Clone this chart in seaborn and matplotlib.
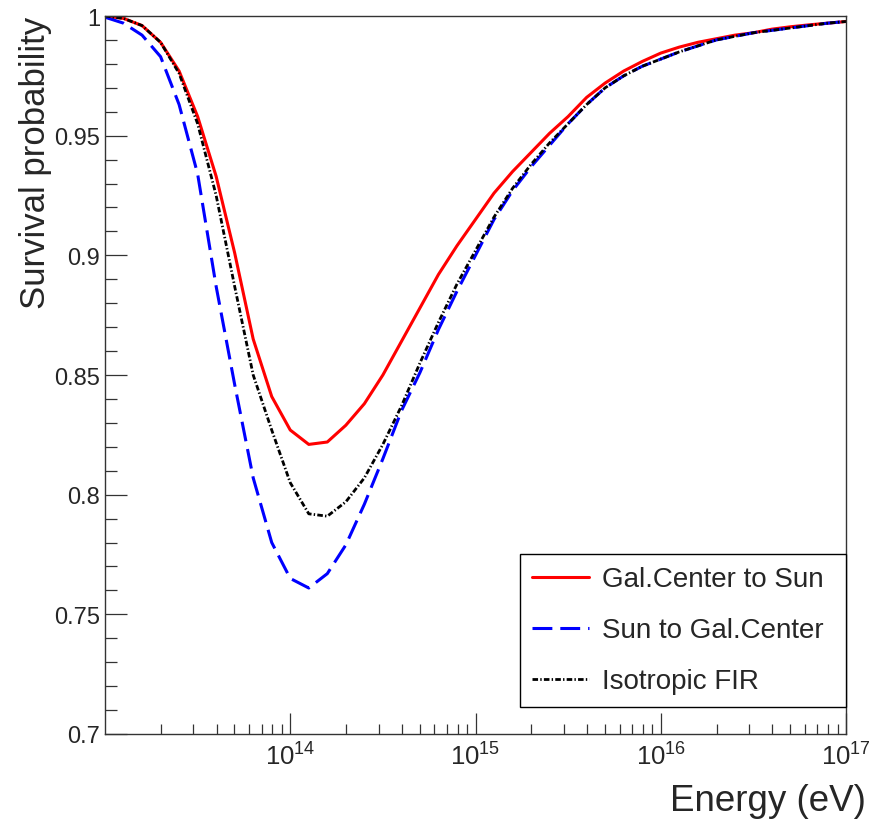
import numpy as np
import matplotlib
matplotlib.use("Agg")
import matplotlib.pyplot as plt
from matplotlib.ticker import FixedLocator, LogLocator, MultipleLocator, NullFormatter
import seaborn as sns

# Energy grid: log10(E/eV) in steps of 0.1 decade
log_energy = np.round(np.arange(13.0, 17.05, 0.1), 1)

# Survival probability for each propagation geometry
gc_to_sun = [1.000, 0.999, 0.996, 0.989, 0.977, 0.958, 0.933, 0.901, 0.865, 0.841,
             0.827, 0.821, 0.822, 0.829, 0.838, 0.850, 0.864, 0.878, 0.892, 0.904,
             0.915, 0.926, 0.935, 0.943, 0.951, 0.958, 0.966, 0.972, 0.977, 0.981,
             0.9845, 0.987, 0.989, 0.9905, 0.992, 0.993, 0.9945, 0.9955, 0.9963, 0.997,
             0.9977]
sun_to_gc = [0.9995, 0.997, 0.992, 0.983, 0.963, 0.934, 0.887, 0.846, 0.807, 0.780,
             0.765, 0.761, 0.767, 0.779, 0.796, 0.815, 0.835, 0.851, 0.869, 0.885,
             0.900, 0.915, 0.927, 0.937, 0.946, 0.955, 0.963, 0.970, 0.975, 0.979,
             0.982, 0.985, 0.9875, 0.990, 0.9915, 0.993, 0.994, 0.995, 0.996, 0.997,
             0.9977]
isotropic_fir = [1.000, 0.999, 0.996, 0.989, 0.976, 0.955, 0.925, 0.887, 0.850, 0.827,
                 0.805, 0.792, 0.791, 0.797, 0.807, 0.821, 0.837, 0.855, 0.872, 0.888,
                 0.902, 0.916, 0.928, 0.938, 0.947, 0.955, 0.963, 0.970, 0.975, 0.979,
                 0.982, 0.985, 0.9875, 0.990, 0.9915, 0.993, 0.994, 0.995, 0.996, 0.997,
                 0.9977]

series_labels = ["Gal.Center to Sun", "Sun to Gal.Center", "Isotropic FIR"]
x_tick_exponents = [14, 15, 16, 17]
y_ticks = [0.7, 0.75, 0.8, 0.85, 0.9, 0.95, 1.0]
y_tick_labels = ["0.7", "0.75", "0.8", "0.85", "0.9", "0.95", "1"]

sns.set_style("ticks")
plt.rcParams["font.family"] = ["Liberation Sans", "DejaVu Sans"]
plt.rcParams["mathtext.fontset"] = "custom"
plt.rcParams["mathtext.rm"] = "Liberation Sans"
plt.rcParams["mathtext.it"] = "Liberation Sans:italic"
plt.rcParams["mathtext.bf"] = "Liberation Sans:bold"

W, H = 878, 820
fig = plt.figure(figsize=(W / 100, H / 100), dpi=100)
ax = fig.add_axes([105 / W, 1 - 735 / H, (846 - 105) / W, (735 - 17) / H])

energy = 10.0 ** log_energy
sns.lineplot(x=energy, y=gc_to_sun, ax=ax, color="#ff0000", lw=2.2,
             label=series_labels[0])
sns.lineplot(x=energy, y=sun_to_gc, ax=ax, color="#0000ff", lw=2.2,
             linestyle=(0, (6.5, 2.6)), label=series_labels[1])
sns.lineplot(x=energy, y=isotropic_fir, ax=ax, color="black", lw=2.0,
             linestyle=(0, (2.0, 0.8, 0.5, 0.8)), label=series_labels[2])

ax.set_xscale("log")
ax.set_xlim(1e13, 1e17)
ax.set_ylim(0.7, 1.0)

ax.xaxis.set_major_locator(FixedLocator([10.0 ** e for e in x_tick_exponents]))
ax.set_xticklabels([rf"$10^{{{e}}}$" for e in x_tick_exponents])
ax.xaxis.set_minor_locator(LogLocator(base=10, subs=np.arange(2, 10), numticks=30))
ax.xaxis.set_minor_formatter(NullFormatter())

ax.set_yticks(y_ticks)
ax.set_yticklabels(y_tick_labels)
ax.yaxis.set_minor_locator(MultipleLocator(0.01))

edge = "#333333"
for s in ax.spines.values():
    s.set_color(edge)
    s.set_linewidth(1.0)

ax.tick_params(axis="both", which="both", direction="in", top=False, right=False,
               color=edge, width=0.9)
ax.tick_params(axis="x", which="major", length=15, pad=6, labelsize=18.5)
ax.tick_params(axis="x", which="minor", length=7.5)
ax.tick_params(axis="y", which="major", length=16, pad=3.5, labelsize=17)
ax.tick_params(axis="y", which="minor", length=8.6)

ax.set_ylabel("Survival probability", fontsize=25, loc="top")
ax.yaxis.set_label_coords((52 - 105) / 741, 1.0)
ax.set_xlabel("Energy (eV)", fontsize=26.5, loc="right")
ax.xaxis.set_label_coords((866 - 105) / 741, (735 - 811) / 718)
ax.xaxis.label.set_va("baseline")

leg = ax.legend(loc="upper left", bbox_to_anchor=(0.560, 0.0, 0.44, 0.2507),
                mode="expand", borderaxespad=0, fontsize=20, handlelength=2.05,
                handletextpad=0.45, labelspacing=0.9, borderpad=0.45,
                fancybox=False, framealpha=1, edgecolor="black")
leg.get_frame().set_linewidth(1.0)

fig.savefig("out.png", dpi=100)
